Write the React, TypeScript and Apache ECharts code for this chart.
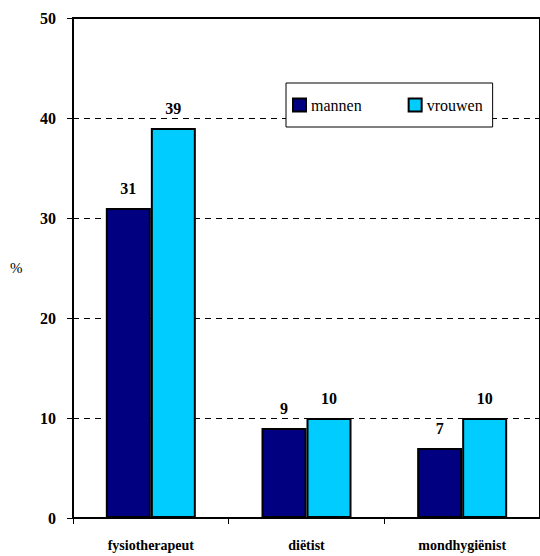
import React, { useEffect, useRef } from "react";
import * as echarts from "echarts";

const categories = ["fysiotherapeut", "diëtist", "mondhygiënist"];
const mannen = [31, 9, 7];
const vrouwen = [39, 10, 10];
const yTicks = [0, 10, 20, 30, 40, 50];

const FONT = "Liberation Serif, DejaVu Serif, serif";

export default function App() {
  const ref = useRef<HTMLDivElement>(null);

  useEffect(() => {
    if (!ref.current) return;
    const chart = echarts.init(ref.current, null, { renderer: "svg" });

    const barLabel = {
      show: true,
      position: "top" as const,
      distance: 12,
      fontFamily: FONT,
      fontWeight: "bold" as const,
      fontSize: 16,
      color: "#000",
    };

    chart.setOption({
      animation: false,
      backgroundColor: "#fff",
      grid: {
        left: 73,
        top: 18,
        width: 477,
        height: 500,
        show: true,
        borderColor: "#000",
        borderWidth: 2,
        backgroundColor: "transparent",
      },
      legend: {
        data: ["mannen", "vrouwen"],
        left: 286,
        top: 83,
        width: 230,
        height: 44,
        padding: [14, 10, 14, 6],
        itemGap: 46,
        itemWidth: 13,
        itemHeight: 13,
        icon: "rect",
        backgroundColor: "#fff",
        borderColor: "#000",
        borderWidth: 1,
        itemStyle: { borderColor: "#000", borderWidth: 2 },
        textStyle: { fontFamily: FONT, fontSize: 16, color: "#000" },
      },
      xAxis: {
        type: "category",
        data: categories,
        axisLine: { lineStyle: { color: "#000", width: 2 } },
        axisTick: { show: true, length: 6, lineStyle: { color: "#000", width: 1 } },
        axisLabel: {
          margin: 20,
          fontFamily: FONT,
          fontWeight: "bold",
          fontSize: 14,
          color: "#000",
        },
      },
      yAxis: {
        type: "value",
        min: yTicks[0],
        max: yTicks[yTicks.length - 1],
        interval: 10,
        axisLine: { show: true, lineStyle: { color: "#000", width: 2 } },
        axisTick: { show: true, length: 6, lineStyle: { color: "#000", width: 1 } },
        axisLabel: {
          margin: 17,
          fontFamily: FONT,
          fontWeight: "bold",
          fontSize: 16,
          color: "#000",
        },
        splitLine: {
          show: true,
          lineStyle: { color: "#000", width: 1, type: [6, 5] },
        },
      },
      series: [
        {
          name: "mannen",
          type: "bar",
          data: mannen,
          barWidth: 45,
          barGap: "0%",
          itemStyle: { color: "#000080", borderColor: "#000", borderWidth: 2 },
          label: barLabel,
        },
        {
          name: "vrouwen",
          type: "bar",
          data: vrouwen,
          barWidth: 45,
          barGap: "0%",
          itemStyle: { color: "#00CCFF", borderColor: "#000", borderWidth: 2 },
          label: barLabel,
        },
      ],
      graphic: [
        {
          type: "text",
          left: 10,
          top: 260,
          style: { text: "%", fontFamily: FONT, fontSize: 15, fill: "#000" },
        },
      ],
    });

    return () => chart.dispose();
  }, []);

  return (
    <div
      ref={ref}
      style={{ position: "fixed", left: 0, top: 0, width: 540, height: 556 }}
    />
  );
}
